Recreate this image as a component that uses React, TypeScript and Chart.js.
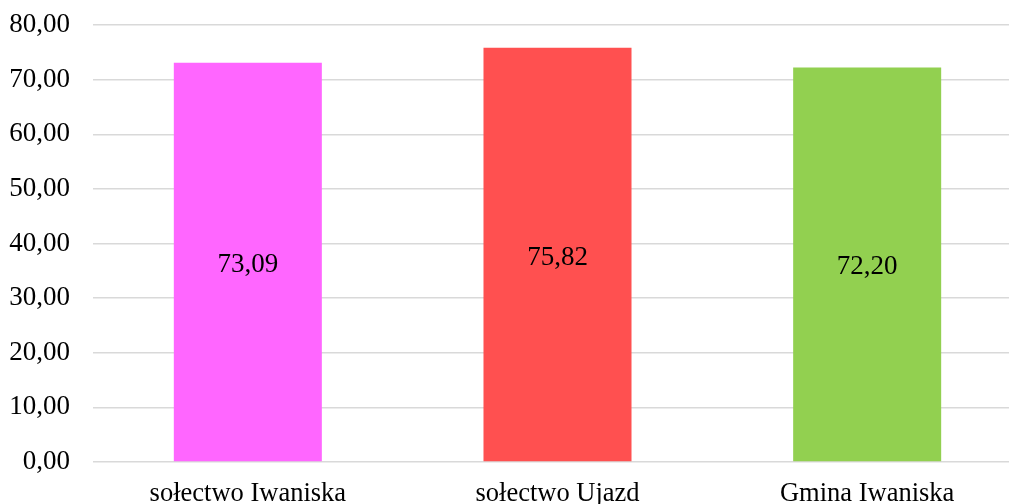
import React, { useEffect, useRef } from "react";
import { Chart, registerables } from "chart.js";

Chart.register(...registerables);

const categories = ["sołectwo Iwaniska", "sołectwo Ujazd", "Gmina Iwaniska"];
const values = [73.09, 75.82, 72.2];
const barColors = ["#FF66FF", "#FF5050", "#92D050"];
const yMin = 0;
const yMax = 80;
const yStep = 10;

const fmt = (v: number) => v.toFixed(2).replace(".", ",");

const FONT = "'Liberation Serif', 'Times New Roman', serif";

const centerLabels = {
  id: "centerLabels",
  afterDatasetsDraw(chart: any) {
    const ctx = chart.ctx;
    const meta = chart.getDatasetMeta(0);
    ctx.save();
    ctx.font = `27px ${FONT}`;
    ctx.fillStyle = "#000";
    ctx.textAlign = "center";
    ctx.textBaseline = "alphabetic";
    meta.data.forEach((bar: any, i: number) => {
      const y = (bar.y + bar.base) / 2;
      ctx.fillText(fmt(values[i]), bar.x, y + 10);
    });
    ctx.restore();
  },
};

export default function App() {
  const ref = useRef<HTMLCanvasElement>(null);
  useEffect(() => {
    document.body.style.overflow = "hidden";
    const chart = new Chart(ref.current!, {
      type: "bar",
      data: {
        labels: categories,
        datasets: [
          {
            data: values,
            backgroundColor: barColors,
            barPercentage: 1,
            categoryPercentage: 0.478,
          },
        ],
      },
      options: {
        responsive: false,
        animation: false,
        devicePixelRatio: 1,
        layout: { padding: { top: 25, left: 0, right: 0, bottom: 0 } },
        plugins: { legend: { display: false }, tooltip: { enabled: false } },
        scales: {
          x: {
            grid: { display: false, drawTicks: false },
            border: { display: false },
            ticks: {
              color: "#000",
              font: { family: FONT, size: 26.5 },
              padding: 16,
              maxRotation: 0,
              autoSkip: false,
            },
            afterFit: (s: any) => {
              s.height = 540 - 462;
              s.paddingLeft = 0;
              s.paddingRight = 0;
            },
          },
          y: {
            min: yMin,
            max: yMax,
            grid: {
              color: "#D9D9D9",
              lineWidth: 1.5,
              drawTicks: false,
              tickLength: 0,
            },
            border: { display: false },
            ticks: {
              stepSize: yStep,
              color: "#000",
              font: { family: FONT, size: 27 },
              padding: 23,
              callback: (v: any) => fmt(Number(v)),
            },
            afterFit: (s: any) => {
              s.width = 93;
              s.paddingTop = 0;
              s.paddingBottom = 0;
            },
          },
        },
      },
      plugins: [centerLabels],
    });
    return () => chart.destroy();
  }, []);
  return (
    <div
      style={{
        position: "absolute",
        left: 0,
        top: 0,
        width: 1009,
        height: 504,
        overflow: "hidden",
        background: "#fff",
      }}
    >
      <canvas ref={ref} width={1022} height={540} style={{ display: "block" }} />
    </div>
  );
}
